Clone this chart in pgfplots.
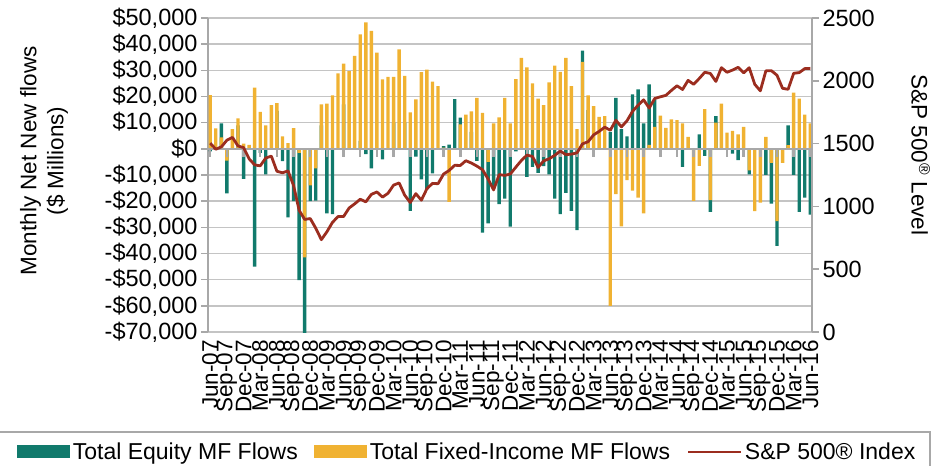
\documentclass[border=0pt]{standalone}
\usepackage{fontspec}
\setmainfont{Liberation Sans}
\usepackage{pgfplots}
\usepackage{pgfplotstable}
\pgfplotsset{compat=1.18}
\definecolor{eqc}{HTML}{117A6C}
\definecolor{fic}{HTML}{F0B232}
\definecolor{spc}{HTML}{9B2D1F}
\definecolor{gridc}{HTML}{C4C4C4}
\definecolor{axc}{HTML}{A8A8A8}

\pgfplotstableread{
i eq fi sp
0 -1000 20500 1503.35
1 0 7800 1455.27
2 9700 4400 1473.99
3 -17000 -4500 1526.75
4 0 7500 1549.38
5 9000 11600 1481.14
6 -11500 2000 1468.36
7 0 1500 1378.55
8 -45000 23400 1330.63
9 -1500 14100 1322.70
10 -9800 9000 1385.59
11 0 16700 1400.38
12 14500 17500 1280.00
13 -4700 4800 1267.38
14 -26200 2200 1282.83
15 -20000 7900 1166.36
16 -50200 -1500 968.75
17 -70500 -41500 896.24
18 -20000 -14000 903.25
19 -19800 -7500 825.88
20 9000 17000 735.09
21 -24700 17300 797.87
22 -25000 20400 872.81
23 0 28800 919.14
24 17000 32600 919.32
25 0 29700 987.48
26 0 35500 1020.62
27 3000 43700 1057.08
28 -2000 48300 1036.19
29 -7500 45100 1095.63
30 0 36800 1115.10
31 -4000 26500 1073.87
32 0 27500 1104.49
33 10000 27500 1169.43
34 0 38000 1186.69
35 10000 27900 1089.41
36 -23700 13900 1030.71
37 -3000 18900 1101.60
38 -11700 29300 1049.33
39 -15500 30300 1141.20
40 -9400 25700 1183.26
41 0 24000 1180.55
42 1000 500 1257.64
43 1600 -20300 1286.12
44 19000 0 1327.22
45 11900 9300 1325.83
46 0 13100 1363.61
47 6500 14300 1345.20
48 -4600 19500 1320.64
49 -32000 13700 1292.28
50 -28500 -5000 1218.89
51 -14500 9700 1131.42
52 -21100 12000 1253.30
53 -19000 19500 1246.96
54 -29700 9700 1257.60
55 -1000 26600 1312.41
56 0 34800 1365.68
57 -10700 31100 1408.47
58 -6900 25000 1397.91
59 -9200 19200 1310.33
60 -6600 16700 1362.16
61 -9800 25400 1379.32
62 -19000 31800 1406.58
63 -25000 29400 1440.67
64 -16800 34800 1412.16
65 -23700 24000 1416.18
66 -31100 7500 1426.19
67 37500 33200 1498.11
68 14800 20400 1514.68
69 0 16300 1569.19
70 0 12200 1597.57
71 0 12500 1630.74
72 6500 -60000 1606.28
73 19500 -17300 1685.73
74 7500 -29600 1632.97
75 4800 -12000 1681.55
76 20800 -16000 1756.54
77 22700 -18600 1805.81
78 9700 -24700 1848.36
79 24600 1500 1782.59
80 18900 8400 1859.45
81 0 12700 1872.34
82 0 8000 1883.95
83 0 11300 1923.57
84 0 11000 1960.23
85 -6900 9700 1930.67
86 0 4600 2003.37
87 0 -19900 1972.29
88 5500 -6500 2018.05
89 -2700 15200 2067.56
90 -24100 -19600 2058.90
91 12500 10000 1994.99
92 0 17300 2104.50
93 0 6200 2067.89
94 -1800 6900 2085.51
95 -4300 5500 2107.39
96 0 8400 2063.11
97 -9800 -8200 2103.84
98 0 -23800 1972.18
99 0 -20600 1920.03
100 -10000 4600 2079.36
101 -20900 -5400 2080.41
102 -37100 -27600 2043.94
103 0 -5400 1940.24
104 9000 1400 1932.23
105 -10000 21500 2059.74
106 -24100 19200 2065.30
107 -18600 13100 2096.95
108 -25100 9700 2098.86
}\datatable

\pgfplotsset{
  every axis/.append style={font=\fontsize{22.5bp}{27bp}\selectfont},
  myaxis/.style={
    at={(0,0)}, anchor=south west,
    scale only axis, width=604bp, height=314bp,
    xmin=-0.4, xmax=108.3,
  },
}

\begin{document}
\begin{tikzpicture}
\useasboundingbox (-208bp,-134bp) rectangle (733bp,332bp);
\begin{axis}[
  myaxis,
  ymin=-70000, ymax=50000,
  scaled y ticks=false,
  ytick={-70000,-60000,...,50000},
  yticklabels={{-\$70,000},{-\$60,000},{-\$50,000},{-\$40,000},{-\$30,000},{-\$20,000},{-\$10,000},{\$0},{\$10,000},{\$20,000},{\$30,000},{\$40,000},{\$50,000}},
  yticklabel style={font=\fontsize{23.5bp}{27bp}\selectfont},
  xtick={0,3,...,108},
  xticklabels={Jun-07,Sep-07,Dec-07,Mar-08,Jun-08,Sep-08,Dec-08,Mar-09,Jun-09,Sep-09,Dec-09,Mar-10,Jun-10,Sep-10,Dec-10,Mar-11,Jun-11,Sep-11,Dec-11,Mar-12,Jun-12,Sep-12,Dec-12,Mar-13,Jun-13,Sep-13,Dec-13,Mar-14,Jun-14,Sep-14,Dec-14,Mar-15,Jun-15,Sep-15,Dec-15,Mar-16,Jun-16},
  x tick label style={rotate=90, anchor=east, inner sep=1bp},
  axis y line*=left,
  axis x line*=bottom,
  x axis line style={draw=none},
  xtick style={draw=none},
  y axis line style={axc, line width=1.5bp},
  ytick style={axc, line width=1.5bp},
  tick align=outside,
  major tick length=7bp,
  ymajorgrids,
  grid style={gridc, line width=1.5bp},
  ylabel={Monthly Net New flows\\(\$ Millions)},
  ylabel style={at={(axis description cs:-0.2715,0.545)}, anchor=center, align=center},
  legend columns=3,
  legend style={draw=none, fill=none, at={(axis description cs:-0.316,-0.382)}, anchor=west,
    inner sep=0pt, font=\fontsize{23bp}{27bp}\selectfont,
    /tikz/every even column/.append style={column sep=14bp},
    nodes={inner sep=2.5bp}},
  legend cell align=left,
]
\addplot[ybar, bar width=3.4bp, bar shift=0pt, fill=eqc, draw=none,
  legend image code/.code={\fill[eqc] (0bp,-6.5bp) rectangle (53bp,6.5bp);}]
  table[x=i, y=eq] {\datatable};
\addlegendentry{Total Equity MF Flows}
\addplot[ybar, bar width=3.4bp, bar shift=0pt, fill=fic, draw=none,
  legend image code/.code={\fill[fic] (0bp,-6.5bp) rectangle (53bp,6.5bp);}]
  table[x=i, y=fi] {\datatable};
\addlegendentry{Total Fixed-Income MF Flows}
\addlegendimage{spc, line width=2.8bp, legend image code/.code={\draw[spc, line width=2.8bp] (0bp,0bp) -- (53bp,0bp);}}
\addlegendentry{S\&P 500® Index}
\addplot[axc, line width=2bp, forget plot] coordinates {(-0.4,0) (108.3,0)};
\addplot[ycomb, axc, line width=2.5bp, forget plot] coordinates {
(0,-3000) (3,-3000) (6,-3000) (9,-3000) (12,-3000) (15,-3000) (18,-3000) (21,-3000) (24,-3000) (27,-3000)
(30,-3000) (33,-3000) (36,-3000) (39,-3000) (42,-3000) (45,-3000) (48,-3000) (51,-3000) (54,-3000) (57,-3000)
(60,-3000) (63,-3000) (66,-3000) (69,-3000) (72,-3000) (75,-3000) (78,-3000) (81,-3000) (84,-3000) (87,-3000)
(90,-3000) (93,-3000) (96,-3000) (99,-3000) (102,-3000) (105,-3000) (108,-3000)};
\end{axis}
\begin{axis}[
  myaxis,
  ymin=0, ymax=2500,
  ytick={0,500,...,2500},
  axis y line*=right,
  axis x line=none,
  y axis line style={axc, line width=1.5bp},
  ytick style={axc, line width=1.5bp},
  tick align=outside,
  major tick length=7bp,
  yticklabel style={/pgf/number format/1000 sep={}, /pgf/number format/assume math mode=true, font=\fontsize{23.5bp}{27bp}\selectfont},
  ylabel={S\&P 500\textsuperscript{®} Level},
  ylabel style={at={(axis description cs:1.18,0.564)}, anchor=center, rotate=180},
]
\addplot[spc, line width=2.8bp, line join=round] table[x=i, y=sp] {\datatable};
\end{axis}
\draw[axc, line width=1.2bp] (-210bp,-100bp) -- (722bp,-100bp) -- (722bp,-140bp);
\end{tikzpicture}
\end{document}
